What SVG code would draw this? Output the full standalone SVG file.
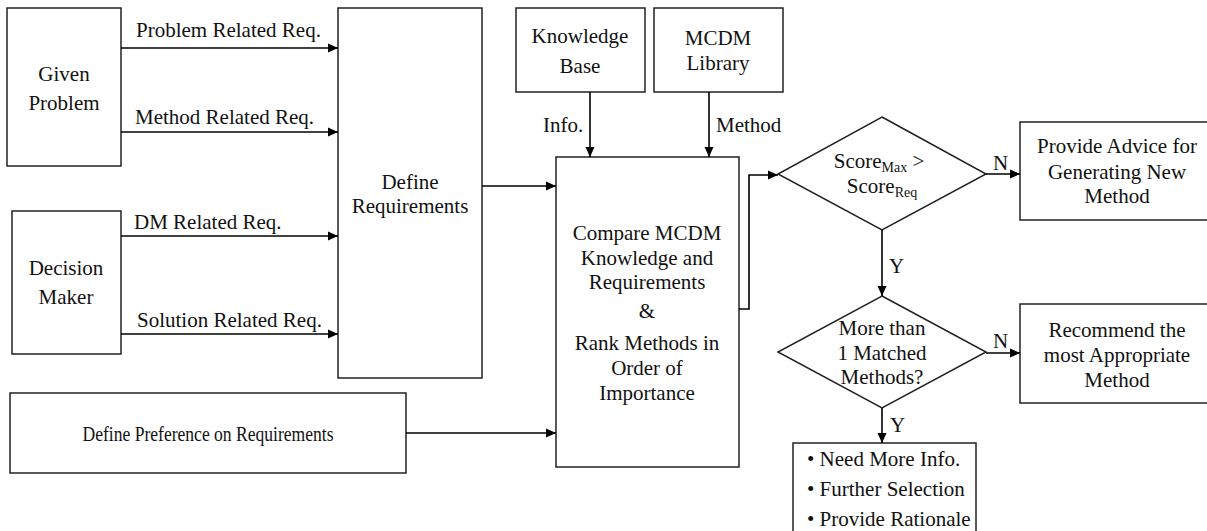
<svg xmlns="http://www.w3.org/2000/svg" width="1207" height="531" viewBox="0 0 1207 531" font-family="'Liberation Serif', 'DejaVu Serif', serif">
<style>
.box{fill:#fff;stroke:#222;stroke-width:1.5}
.c{fill:none;stroke:#000;stroke-width:1.6;marker-end:url(#ah)}
text{font-family:'Liberation Serif','DejaVu Serif',serif;font-size:21px;fill:#111}
.m{text-anchor:middle}
</style>
<defs>
<marker id="ah" markerUnits="userSpaceOnUse" markerWidth="10" markerHeight="10" refX="10" refY="5" orient="auto">
<path d="M0,0.5 L10,5 L0,9.5 z" fill="#000"/>
</marker>
</defs>
<rect width="1207" height="531" fill="#fff"/>
<g id="given-problem"><rect class="box" x="7" y="8" width="114" height="158"/><text class="m" x="64" y="81">Given</text><text class="m" x="64" y="110">Problem</text></g>
<g id="decision-maker"><rect class="box" x="12" y="211" width="109" height="143"/><text class="m" x="66" y="275">Decision</text><text class="m" x="66" y="304">Maker</text></g>
<g id="define-requirements"><rect class="box" x="338" y="8" width="144" height="370"/><text class="m" x="410" y="189">Define</text><text class="m" x="410" y="213">Requirements</text></g>
<g id="define-preference"><rect class="box" x="10" y="393" width="396" height="80"/><text class="m" x="208" y="441" textLength="251" lengthAdjust="spacingAndGlyphs">Define Preference on Requirements</text></g>
<g id="knowledge-base"><rect class="box" x="516" y="8" width="129" height="84"/><text class="m" x="580" y="43">Knowledge</text><text class="m" x="580" y="73">Base</text></g>
<g id="mcdm-library"><rect class="box" x="654" y="8" width="129" height="84"/><text class="m" x="718" y="45">MCDM</text><text class="m" x="718" y="70">Library</text></g>
<g id="compare"><rect class="box" x="556" y="157" width="183" height="310"/>
<text class="m" x="647" y="240">Compare MCDM</text><text class="m" x="647" y="265">Knowledge and</text><text class="m" x="647" y="289">Requirements</text><text class="m" x="647" y="318">&amp;</text><text class="m" x="647" y="350">Rank Methods in</text><text class="m" x="647" y="375">Order of</text><text class="m" x="647" y="400">Importance</text></g>
<g id="decision-score"><path class="box" d="M882,117 L986,174 L882,230 L778,174 z"/><text class="m" x="879" y="168">Score<tspan font-size="14" dy="4">Max</tspan><tspan dy="-4"> &gt;</tspan></text><text class="m" x="882" y="193">Score<tspan font-size="14" dy="4">Req</tspan></text></g>
<g id="provide-advice"><rect class="box" x="1020" y="122" width="200" height="98"/><text class="m" x="1117" y="153">Provide Advice for</text><text class="m" x="1117" y="179">Generating New</text><text class="m" x="1117" y="203">Method</text></g>
<g id="decision-matched"><path class="box" d="M882,296 L986,352 L882,408 L778,352 z"/><text class="m" x="882" y="335">More than</text><text class="m" x="882" y="360">1 Matched</text><text class="m" x="882" y="384">Methods?</text></g>
<g id="recommend"><rect class="box" x="1020" y="304" width="200" height="99"/><text class="m" x="1117" y="337">Recommend the</text><text class="m" x="1117" y="362">most Appropriate</text><text class="m" x="1117" y="387">Method</text></g>
<g id="further-actions"><rect class="box" x="793" y="443" width="183" height="100"/><text x="807" y="466">• Need More Info.</text><text x="807" y="496">• Further Selection</text><text x="807" y="526">• Provide Rationale</text></g>
<g id="connectors">
<path class="c" d="M121,48 H338"/>
<path class="c" d="M121,132 H338"/>
<path class="c" d="M121,236 H338"/>
<path class="c" d="M121,334 H338"/>
<path class="c" d="M482,186 H556"/>
<path class="c" d="M406,433 H556"/>
<path class="c" d="M590,92 V157"/>
<path class="c" d="M709,92 V157"/>
<path class="c" d="M739,309 H749 V175 H778"/>
<path class="c" d="M986,174 H1020"/>
<path class="c" d="M882,230 V296"/>
<path class="c" d="M986,353 H1020"/>
<path class="c" d="M882,408 V443"/>
<text x="136" y="37">Problem Related Req.</text>
<text x="135" y="124">Method Related Req.</text>
<text x="134" y="229">DM Related Req.</text>
<text x="137" y="327">Solution Related Req.</text>
<text x="543" y="132">Info.</text>
<text x="716" y="132">Method</text>
<text x="993" y="170">N</text>
<text x="993" y="348">N</text>
<text x="889" y="273">Y</text>
<text x="890" y="432">Y</text>
</g>
</svg>
